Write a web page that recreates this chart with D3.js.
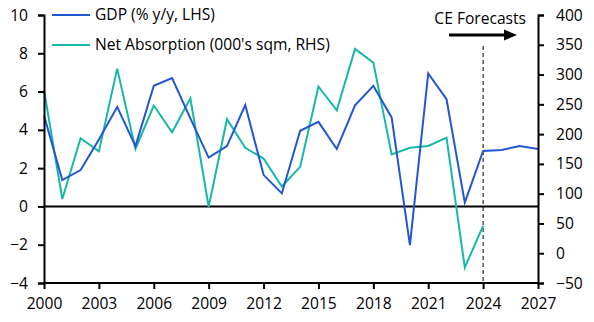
<!DOCTYPE html>
<html><head><meta charset="utf-8">
<script src="https://cdn.jsdelivr.net/npm/d3@7"></script>
<style>
html,body{margin:0;padding:0;background:#fff;}
svg{display:block;font-family:"Open Sans",sans-serif;}
</style></head>
<body><svg id="c" width="594" height="322"></svg>
<script>
const years = d3.range(2000, 2028);
const gdp = [4.75,1.38,1.9,3.5,5.2,3.15,6.3,6.7,4.6,2.55,3.15,5.3,1.65,0.68,3.95,4.42,3.0,5.28,6.3,4.65,-2.02,6.95,5.6,0.2,2.9,2.95,3.15,3.0];
const absorption = [274,91,193,171,310,175,248,203,260,78,225,177,159,112,145,280,240,343,320,166,177,180,194,-24,46];
const leftTicks = [-4,-2,0,2,4,6,8,10];
const rightTicks = [-50,0,50,100,150,200,250,300,350,400];
const xTicks = [2000,2003,2006,2009,2012,2015,2018,2021,2024,2027];
const forecastYear = 2024;
const seriesNames = ["GDP (% y/y, LHS)", "Net Absorption (000's sqm, RHS)"];
const colors = ["#2356d2", "#17b8a5"];

const svg = d3.select("#c");
const L = 44, R = 538, T = 15, B = 283;
const x = d3.scaleLinear().domain([2000, 2027]).range([L, R]);
const yL = d3.scaleLinear().domain([-4, 10]).range([B, T]);
const yR = d3.scaleLinear().domain([-50, 400]).range([B, T]);
const fs = 15.6;

const lineG = d3.line().x((d,i)=>x(years[i])).y(d=>yL(d));
const lineA = d3.line().x((d,i)=>x(years[i])).y(d=>yR(d));

svg.append("line").attr("x1",L).attr("x2",R).attr("y1",yL(0)).attr("y2",yL(0))
  .attr("stroke","#000").attr("stroke-width",2);

svg.append("line").attr("x1",x(forecastYear)).attr("x2",x(forecastYear)).attr("y1",46).attr("y2",B)
  .attr("stroke","#000").attr("stroke-width",1).attr("stroke-dasharray","4,3");

svg.append("path").datum(absorption).attr("d",lineA).attr("fill","none")
  .attr("stroke",colors[1]).attr("stroke-width",2);
svg.append("path").datum(gdp).attr("d",lineG).attr("fill","none")
  .attr("stroke",colors[0]).attr("stroke-width",2);

const axL = svg.append("g").attr("transform",`translate(${L},0)`)
  .call(d3.axisLeft(yL).tickValues(leftTicks).tickSize(6).tickPadding(10));
const axR = svg.append("g").attr("transform",`translate(${R},0)`)
  .call(d3.axisRight(yR).tickValues(rightTicks).tickSize(6).tickPadding(12));
const axB = svg.append("g").attr("transform",`translate(0,${B})`)
  .call(d3.axisBottom(x).tickValues(xTicks).tickFormat(d3.format("d")).tickSize(6).tickPadding(9));
[axL,axR,axB].forEach(g=>{
  g.select(".domain").attr("stroke","#000").attr("stroke-width",2);
  g.selectAll(".tick line").attr("stroke","#000").attr("stroke-width",2);
  g.selectAll(".tick text").attr("fill","#000").style("font-size",fs+"px").style("font-family","'Open Sans',sans-serif");
});
axB.select(".domain").attr("d",`M${L},0H${R}`);

seriesNames.forEach((n,i)=>{
  const yy = 15 + i*30;
  svg.append("line").attr("x1",52).attr("x2",90).attr("y1",yy).attr("y2",yy)
    .attr("stroke",colors[i]).attr("stroke-width",2);
  svg.append("text").attr("x",95).attr("y",yy).attr("dy","0.35em").text(n)
    .style("font-size",fs+"px").attr("fill","#000");
});

svg.append("text").attr("x",526).attr("y",24).attr("text-anchor","end").text("CE Forecasts")
  .style("font-size",fs+"px").attr("fill","#000");
svg.append("line").attr("x1",449).attr("x2",506).attr("y1",35).attr("y2",35)
  .attr("stroke","#000").attr("stroke-width",3);
svg.append("path").attr("d","M504,29.5L517,35L504,40.5Z").attr("fill","#000");
</script></body></html>
